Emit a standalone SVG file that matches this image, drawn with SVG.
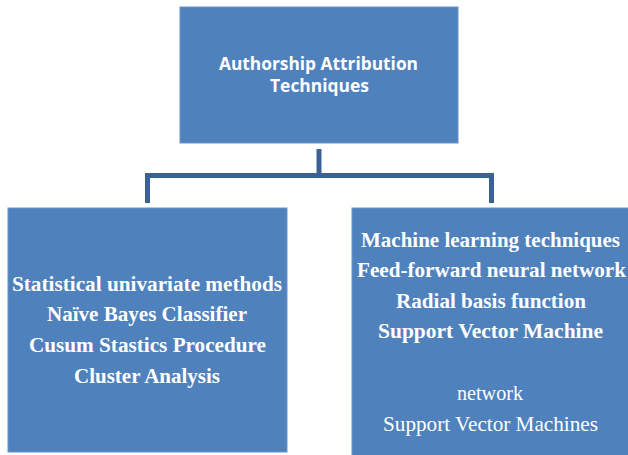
<svg xmlns="http://www.w3.org/2000/svg" width="628" height="455" viewBox="0 0 628 455">
<style>
.box{fill:#4f81bd;stroke:#6a95c9;stroke-width:1}
.conn{fill:none;stroke:#3b6295;stroke-width:5;stroke-linejoin:miter}
.t1{font-family:"Open Sans","Liberation Sans",sans-serif;font-weight:bold;font-size:17px;fill:#fff;text-anchor:middle}
.tb{font-family:"Liberation Serif",serif;font-weight:bold;font-size:21px;fill:#fff;text-anchor:middle}
.tr{font-family:"Liberation Serif",serif;font-size:21px;fill:#fff;text-anchor:middle}
</style>
<rect width="628" height="455" fill="#fff"/>
<g id="connectors">
<path class="conn" d="M319,149 V175.5"/>
<path class="conn" d="M147.5,203 V175.5 H491.5 V203"/>
</g>
<g id="root">
<rect class="box" x="180" y="7" width="278" height="136"/>
<text class="t1" x="318.5" y="70" textLength="199" lengthAdjust="spacingAndGlyphs">Authorship Attribution</text>
<text class="t1" x="319.5" y="92" textLength="99" lengthAdjust="spacingAndGlyphs">Techniques</text>
</g>
<g id="statistical">
<rect class="box" x="8" y="208" width="279" height="244"/>
<text class="tb" x="147" y="291" textLength="270" lengthAdjust="spacingAndGlyphs">Statistical univariate methods</text>
<text class="tb" x="147" y="321" textLength="200" lengthAdjust="spacingAndGlyphs">Naïve Bayes Classifier</text>
<text class="tb" x="147.5" y="352" textLength="237" lengthAdjust="spacingAndGlyphs">Cusum Stastics Procedure</text>
<text class="tb" x="147" y="383" textLength="146" lengthAdjust="spacingAndGlyphs">Cluster Analysis</text>
</g>
<g id="machine">
<rect class="box" x="352" y="208" width="280" height="250"/>
<text class="tb" x="490.5" y="247" textLength="259" lengthAdjust="spacingAndGlyphs">Machine learning techniques</text>
<text class="tb" x="491.5" y="277" textLength="269" lengthAdjust="spacingAndGlyphs">Feed-forward neural network</text>
<text class="tb" x="491" y="308" textLength="190" lengthAdjust="spacingAndGlyphs">Radial basis function</text>
<text class="tb" x="490.5" y="338" textLength="225" lengthAdjust="spacingAndGlyphs">Support Vector Machine</text>
<text class="tr" x="490" y="400" textLength="66" lengthAdjust="spacingAndGlyphs">network</text>
<text class="tr" x="490.5" y="431" textLength="215" lengthAdjust="spacingAndGlyphs">Support Vector Machines</text>
</g>
</svg>
